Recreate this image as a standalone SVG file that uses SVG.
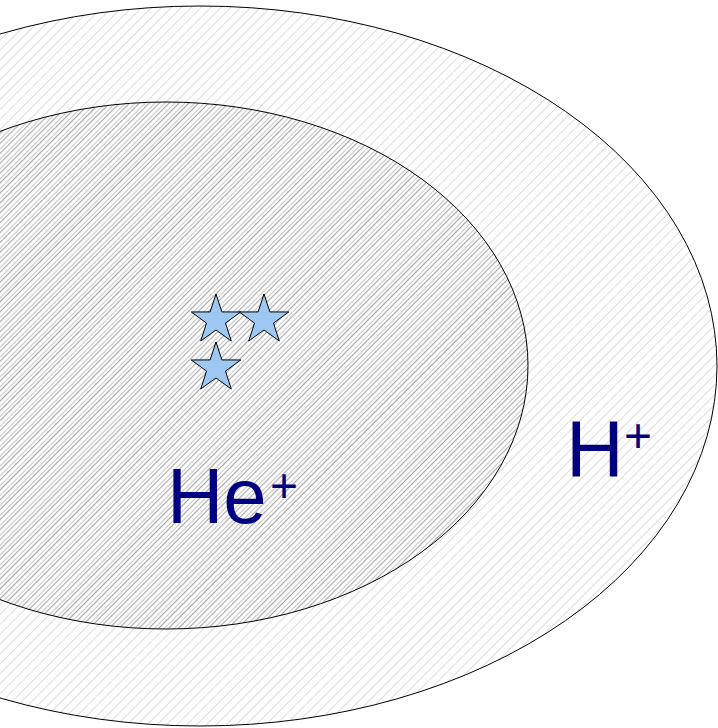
<svg xmlns="http://www.w3.org/2000/svg" width="718" height="728" viewBox="0 0 718 728">
  <defs>
    <pattern id="hatchOuter" patternUnits="userSpaceOnUse" width="7" height="7" patternTransform="rotate(45)">
      <line x1="0" y1="0" x2="0" y2="7" stroke="#c4c4c4" stroke-width="1.2"/>
    </pattern>
    <pattern id="hatchInner" patternUnits="userSpaceOnUse" width="7" height="7" patternTransform="rotate(45)">
      <line x1="3.5" y1="0" x2="3.5" y2="7" stroke="#a8a8a8" stroke-width="1.2"/>
    </pattern>
    <polygon id="star" points="0,-26 5.88,-8.09 24.73,-8.03 9.51,3.09 15.28,21.03 0,10 -15.28,21.03 -9.51,3.09 -24.73,-8.03 -5.88,-8.09"/>
  </defs>
  <style>
    .region { stroke: #000; stroke-width: 1; }
    .star { fill: #9cc8f2; stroke: #000; stroke-width: 1; }
    .label { font-family: "Liberation Sans", Arial, sans-serif; fill: #000080; }
  </style>
  <rect width="718" height="728" fill="#fff"/>
  <g id="outer-region">
    <ellipse class="region" cx="200" cy="366" rx="517" ry="360" fill="url(#hatchOuter)"/>
  </g>
  <g id="inner-region">
    <ellipse cx="166" cy="365.5" rx="362" ry="263.5" fill="url(#hatchOuter)"/>
    <ellipse class="region" cx="166" cy="365.5" rx="362" ry="263.5" fill="url(#hatchInner)"/>
  </g>
  <g id="stars">
    <use href="#star" class="star" x="216" y="320"/>
    <use href="#star" class="star" x="264" y="320"/>
    <use href="#star" class="star" x="216" y="368"/>
  </g>
  <g id="label-he">
    <text class="label" x="167" y="523" font-size="78">He</text>
    <text class="label" x="270" y="502" font-size="48">+</text>
  </g>
  <g id="label-h">
    <text class="label" x="566" y="476" font-size="80">H</text>
    <text class="label" x="624" y="452" font-size="48">+</text>
  </g>
</svg>
